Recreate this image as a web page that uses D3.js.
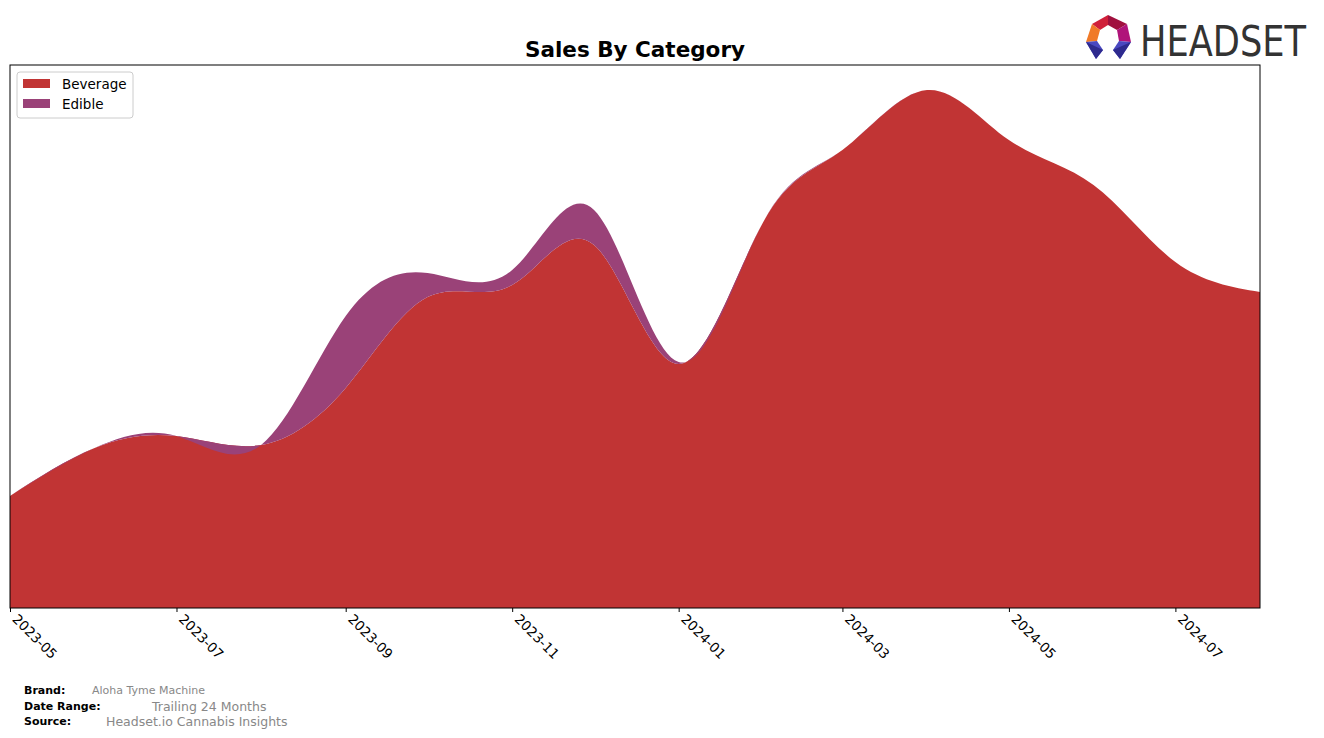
<!DOCTYPE html>
<html><head><meta charset="utf-8">
<script src="https://cdn.jsdelivr.net/npm/d3@7"></script>
<style>body{margin:0;background:#fff;}svg{display:block;font-family:"DejaVu Sans",sans-serif;}</style>
</head><body><svg id="c" width="1324" height="738"></svg>
<script>
const months = ["2023-05","2023-06","2023-07","2023-08","2023-09","2023-10","2023-11","2023-12","2024-01","2024-02","2024-03","2024-04","2024-05","2024-06","2024-07","2024-08"];
const beverage = [112,160,172,163,220,311,323,363,244,386,458,518,468,423,346,316];
const edible   = [0,0,0,0,72,24,15,35,2,0,0,0,0,0,0,0];
const seriesNames = ["Beverage","Edible"];
const seriesColors = ["#c13434","#9a4278"];
const tickLabels = ["2023-05","2023-07","2023-09","2023-11","2024-01","2024-03","2024-05","2024-07"];

const svg = d3.select("#c");
const L=10,R=1260,T=65,B=608;
const parse = d3.timeParse("%Y-%m");
const rows = months.map((m,i)=>({date:parse(m),Beverage:beverage[i],Edible:edible[i]}));
const x = d3.scaleTime().domain([parse(months[0]),parse(months[months.length-1])]).range([L,R]);
const y = d3.scaleLinear().domain([0,543]).range([B,T]);
const stack = d3.stack().keys(seriesNames)(rows);
const area = d3.area().x(d=>x(d.data.date)).y0(d=>y(d[0])).y1(d=>y(d[1])).curve(d3.curveNatural);
svg.append("defs").append("clipPath").attr("id","clip").append("rect").attr("x",L).attr("y",T).attr("width",R-L).attr("height",B-T);
const g = svg.append("g").attr("clip-path","url(#clip)");
g.selectAll("path.a").data(stack).join("path").attr("class","a")
 .attr("d",area).attr("fill",(d,i)=>seriesColors[i]);
// frame
svg.append("rect").attr("x",L).attr("y",T).attr("width",R-L).attr("height",B-T).attr("fill","none").attr("stroke","#000").attr("stroke-width",1);
// axis
const ax = svg.append("g").attr("transform",`translate(0,${B})`)
 .call(d3.axisBottom(x).tickValues(tickLabels.map(parse)).tickFormat(d3.timeFormat("%Y-%m")).tickSize(4).tickSizeOuter(0));
ax.select(".domain").remove();
ax.selectAll("text").attr("font-size",13.5).attr("font-family","DejaVu Sans").attr("fill","#000")
 .attr("text-anchor","start").attr("dy",0).attr("y",0)
 .attr("transform","translate(1,12) rotate(45)");
// title
svg.append("text").attr("x",635).attr("y",57).attr("text-anchor","middle").attr("font-size",21.5).attr("font-weight","bold").text("Sales By Category");
// legend
const lg = svg.append("g");
lg.append("rect").attr("x",17).attr("y",72).attr("width",116).attr("height",46).attr("rx",3).attr("fill","#fff").attr("stroke","#ccc");
seriesNames.forEach((n,i)=>{
  lg.append("rect").attr("x",23).attr("y",79+i*20).attr("width",27).attr("height",9).attr("fill",seriesColors[i]);
  lg.append("text").attr("x",62).attr("y",89+i*20).attr("font-size",13.5).text(n);
});
// logo
const lo = svg.append("g");
const segs = [
 [[1092,24],[1108,15],[1108,25],[1100,30],"#d0203a"],
 [[1108,15],[1127,24],[1117,30],[1108,25],"#a0103e"],
 [[1127,24],[1131,42],[1119,41],[1117,30],"#b0147a"],
 [[1092,24],[1100,30],[1097,41],[1086,42],"#f07a28"],
 [[1086,42],[1097,41],[1103,50],[1096,59],"#4a48c0"],
 [[1131,42],[1119,41],[1113,50],[1120,59],"#4a48c0"]
];
segs.forEach(s=>lo.append("path").attr("d",`M${s[0]}L${s[1]}L${s[2]}L${s[3]}Z`).attr("fill",s[4]));
lo.append("path").attr("d","M1086,42L1103,50L1096,59Z").attr("fill","#2e2a8e");
lo.append("path").attr("d","M1131,42L1113,50L1120,59Z").attr("fill","#2e2a8e");
svg.append("text").attr("x",1140).attr("y",56).attr("font-size",42).attr("font-family","Liberation Sans Narrow, DejaVu Sans Condensed, sans-serif").attr("fill","#333").attr("textLength",166).attr("lengthAdjust","spacingAndGlyphs").text("HEADSET");
// footer
const ft=[["Brand:","Aloha Tyme Machine",92,690,11],["Date Range:","Trailing 24 Months",152,706,12.5],["Source:","Headset.io Cannabis Insights",106,721,12.5]];
ft.forEach(f=>{
 svg.append("text").attr("x",24).attr("y",f[3]+4).attr("font-size",11).attr("font-weight","bold").text(f[0]);
 svg.append("text").attr("x",f[2]).attr("y",f[3]+4+(f[4]>11?1:0)).attr("font-size",f[4]).attr("fill","#888").text(f[1]);
});
</script></body></html>
